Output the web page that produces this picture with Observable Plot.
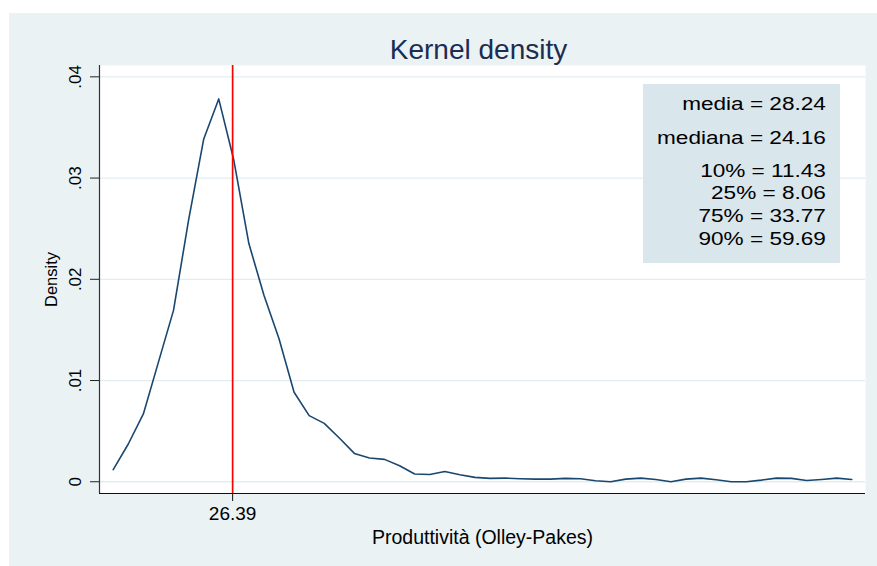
<!DOCTYPE html>
<html>
<head>
<meta charset="utf-8">
<script src="https://cdn.jsdelivr.net/npm/d3@7"></script>
<script src="https://cdn.jsdelivr.net/npm/@observablehq/plot@0.6"></script>
<style>
  html, body { margin: 0; padding: 0; background: #ffffff; width: 877px; height: 566px; overflow: hidden; }
  #wrap { position: absolute; left: 9px; top: 13px; width: 868px; height: 553px; background: #eaf2f3; }
  #wrap svg { position: absolute; left: 0; top: 0; }
  .stats { position: absolute; left: 633.7px; top: 71px; width: 197px; height: 179px; background: #d9e6ec;
           font-family: "Liberation Sans", Arial, sans-serif; font-size: 17.5px; color: #000; }
  .stats .inner { position: absolute; right: 14px; top: 9.3px; transform: scaleX(1.29); transform-origin: right top;
                  text-align: right; line-height: 22.6px; white-space: nowrap; }
  .stats .gap { margin-top: 10.7px; }
</style>
</head>
<body>
<div id="wrap"></div>
<script>
// ---- data ----
const title = "Kernel density";
const xTitle = "Produttività (Olley-Pakes)";
const yTitle = "Density";

// evaluation grid of the kernel density (50 points)
const xs = [-3.00, 0.71, 4.42, 8.13, 11.84, 15.55, 19.26, 22.97, 26.68, 30.39,
            34.10, 37.81, 41.52, 45.23, 48.94, 52.65, 56.36, 60.07, 63.78, 67.49,
            71.20, 74.91, 78.62, 82.33, 86.04, 89.75, 93.46, 97.17, 100.88, 104.59,
            108.30, 112.01, 115.72, 119.43, 123.14, 126.85, 130.56, 134.27, 137.98, 141.69,
            145.40, 149.11, 152.82, 156.53, 160.24, 163.95, 167.66, 171.37, 175.08, 178.79];
const density = [0.00119, 0.00373, 0.00670, 0.01182, 0.01693, 0.02584, 0.03383, 0.03782, 0.03178, 0.02353,
                 0.01842, 0.01413, 0.00884, 0.00653, 0.00577, 0.00432, 0.00280, 0.00234, 0.00221, 0.00158,
                 0.00076, 0.00072, 0.00102, 0.00069, 0.00043, 0.00033, 0.00036, 0.00030, 0.00026, 0.00026,
                 0.00033, 0.00030, 0.00010, 0.00000, 0.00026, 0.00036, 0.00023, 0.00000, 0.00026, 0.00036,
                 0.00020, 0.00000, 0.00000, 0.00016, 0.00036, 0.00033, 0.00013, 0.00023, 0.00036, 0.00023];

const yTicks = [0, 0.01, 0.02, 0.03, 0.04];
const yTickLabels = ["0", ".01", ".02", ".03", ".04"];
const xTicks = [26.39];
const xTickLabels = ["26.39"];
const refLine = [26.39];

const statNames = ["media", "mediana", "10%", "25%", "75%", "90%"];
const statValues = ["28.24", "24.16", "11.43", "8.06", "33.77", "59.69"];

const yDomain = [-0.00116, 0.04112];

// ---- build ----
const pts = xs.map((x, i) => ({x, d: density[i]}));
const pad = (xs[1] - xs[0]) * 0.91;
const xDomain = [xs[0] - pad, xs[xs.length - 1] + pad];

const plot = Plot.plot({
  width: 868,
  height: 553,
  marginLeft: 90,
  marginTop: 52,
  marginRight: 12,
  marginBottom: 73,
  style: {background: "transparent", fontFamily: "'Liberation Sans', Arial, sans-serif", color: "#000", overflow: "visible"},
  x: {domain: xDomain},
  y: {domain: yDomain},
  marks: [
    Plot.frame({fill: "white", stroke: null}),
    Plot.gridY(yTicks, {stroke: "#e3edf0", strokeOpacity: 1, strokeWidth: 1.3}),
    Plot.line(pts, {x: "x", y: "d", stroke: "#1a476f", strokeWidth: 1.6}),
    Plot.ruleX(refLine, {stroke: "#ff0000", strokeWidth: 1.7}),
    Plot.ruleX([xDomain[0]], {stroke: "#333", strokeWidth: 1.2}),
    Plot.ruleY([yDomain[0]], {stroke: "#111", strokeWidth: 1.2}),
    Plot.axisY(yTicks, {
      tickRotate: -90, tickSize: 9, tickPadding: 10, fontSize: 17,
      tickFormat: d => yTickLabels[yTicks.indexOf(d)], label: null, stroke: "#222"
    }),
    Plot.axisX(xTicks, {
      tickSize: 8, tickPadding: 5, fontSize: 19,
      tickFormat: d => xTickLabels[xTicks.indexOf(d)], label: null, stroke: "#111"
    }),
    Plot.text([yTitle], {text: d => d, frameAnchor: "left", textAnchor: "middle", rotate: -90, dx: -42.3, lineAnchor: "bottom", fontSize: 16.5, fill: "#000"}),
    Plot.text([xTitle], {text: d => d, frameAnchor: "bottom", textAnchor: "middle", lineAnchor: "bottom", dy: 50, fontSize: 19.5, fill: "#000"}),
    Plot.text([title], {text: d => d, frameAnchor: "top", textAnchor: "middle", lineAnchor: "bottom", dy: -7, dx: -4, fontSize: 28, fill: "#1c2c52"})
  ]
});

const wrap = document.getElementById("wrap");
wrap.appendChild(plot);

// statistics box
const box = document.createElement("div");
box.className = "stats";
const inner = document.createElement("div");
inner.className = "inner";
statNames.forEach((n, i) => {
  const line = document.createElement("div");
  if (i === 1 || i === 2) line.className = "gap";
  line.textContent = `${n} = ${statValues[i]}`;
  inner.appendChild(line);
});
box.appendChild(inner);
wrap.appendChild(box);
</script>
</body>
</html>
